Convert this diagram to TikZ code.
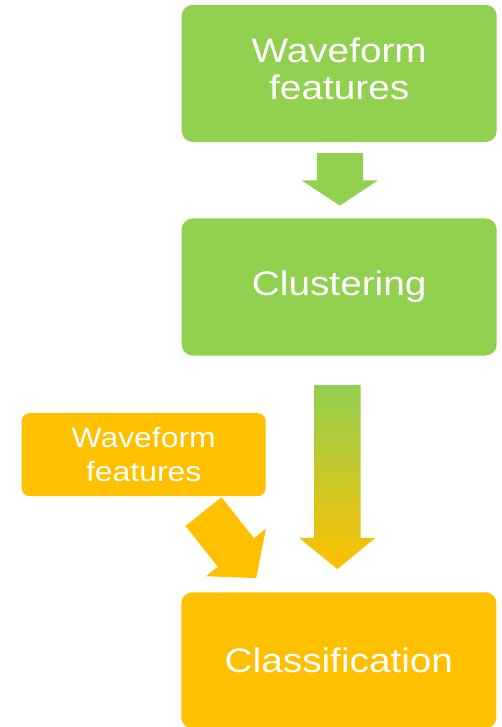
\documentclass[tikz,border=0pt]{standalone}
\usepackage{fontspec}
\setmainfont{Liberation Sans}[FakeStretch=1.14]
\usepackage{tikz}
\usetikzlibrary{calc}
\definecolor{boxgreen}{RGB}{146,208,80}
\definecolor{boxorange}{RGB}{255,192,0}

\tikzset{
  bigbox/.style={rounded corners=11pt, minimum width=315pt, minimum height=137pt,
    inner sep=0pt, text=white, align=center, font=\fontsize{34}{36.7}\selectfont},
  smallbox/.style={rounded corners=8pt, minimum width=244pt, minimum height=83pt,
    inner sep=0pt, text=white, align=center, font=\fontsize{28}{34}\selectfont}
}

% block arrow: style, from, to, shaft half width, head half width, head length
\newcommand{\blockarrow}[6]{%
  \path[#1] ($(#2)!#4!90:(#3)$)
    -- ($(#3)!#6!(#2)!#4!-90:(#2)$)
    -- ($(#3)!#6!(#2)!#5!-90:(#2)$)
    -- (#3)
    -- ($(#3)!#6!(#2)!#5!90:(#2)$)
    -- ($(#3)!#6!(#2)!#4!90:(#2)$)
    -- ($(#2)!#4!-90:(#3)$) -- cycle;}

\begin{document}
\begin{tikzpicture}[x=1pt, y=-1pt]
  \useasboundingbox (0,0) rectangle (502,727);

  % Green boxes
  \node[bigbox, fill=boxgreen, text depth=10pt] (feat) at (339.2,73.4) {Waveform\\features};
  \node[bigbox, fill=boxgreen] (clust) at (339.2,287) {Clustering};

  % Orange boxes
  \node[smallbox, fill=boxorange] (feat2) at (143.7,454.7) {Waveform\\features};
  \node[bigbox, fill=boxorange, minimum height=136pt] (cls) at (338.9,660.3) {Classification};

  % Arrow ends
  \coordinate (a1s) at ($(feat.south)+(0.6,11.1)$);
  \coordinate (a1e) at ($(clust.north)+(0.6,-12.7)$);
  \coordinate (a2s) at ($(clust.south)+(-1.9,29.3)$);
  \coordinate (a2e) at ($(cls.north)+(-1.6,-23)$);
  \coordinate (a3s) at ($(feat2.south east)+(-62.4,15.2)$);
  \coordinate (a3e) at ($(cls.north west)+(75,-14)$);

  % Block arrows
  \blockarrow{fill=boxgreen}{a1s}{a1e}{23pt}{38.3pt}{25.3pt}
  \blockarrow{top color=boxgreen, bottom color=boxorange}{a2s}{a2e}{23.3pt}{38.3pt}{31.3pt}
  \blockarrow{fill=boxorange}{a3s}{a3e}{23pt}{38.3pt}{32.7pt}
\end{tikzpicture}
\end{document}
